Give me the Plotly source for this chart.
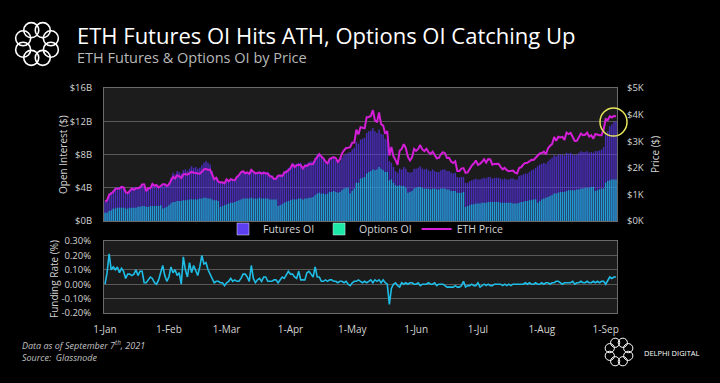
import math
import pandas as pd
import plotly.graph_objects as go

dates = pd.date_range("2021-01-01", periods=249, freq="D")

# ETH price (USD)
eth_price = [
    730, 775, 979, 1042, 1100, 1208, 1225, 1224, 1281, 1262, 1090, 1044, 1130, 1218, 1171, 1233, 1230, 1257, 1377, 1382, 1121, 1235, 1230, 1392, 1324, 1357, 1253, 1331, 1382, 1378, 1314,
    1370, 1514, 1660, 1594, 1718, 1677, 1614, 1750, 1769, 1744, 1784, 1843, 1814, 1804, 1779, 1781, 1848, 1937, 1960, 1919, 1935, 1781, 1570, 1626, 1475, 1446, 1459, 1416,
    1564, 1492, 1575, 1541, 1533, 1654, 1724, 1834, 1869, 1795, 1825, 1770, 1924, 1854, 1791, 1806, 1822, 1782, 1812, 1788, 1785, 1681, 1669, 1581, 1587, 1700, 1713, 1687, 1816, 1840, 1919,
    1977, 2143, 2029, 2090, 2111, 2100, 1972, 2072, 2072, 2137, 2152, 2140, 2300, 2432, 2514, 2423, 2355, 2235, 2168, 2330, 2365, 2403, 2363, 2212, 2315, 2535, 2659, 2745, 2756, 2773,
    2945, 2950, 3431, 3253, 3522, 3490, 3484, 3903, 3910, 3948, 4168, 3785, 3715, 4079, 3640, 3587, 3282, 3379, 2460, 2784, 2430, 2296, 2109, 2643, 2707, 2889, 2742, 2412, 2278, 2386, 2707,
    2634, 2707, 2855, 2689, 2630, 2715, 2590, 2517, 2609, 2472, 2354, 2372, 2509, 2587, 2549, 2367, 2373, 2231, 2178, 2243, 1880, 1880, 1969, 1989, 1811, 1829, 1982, 2080, 2160, 2274,
    2112, 2150, 2226, 2321, 2198, 2324, 2316, 2117, 2147, 2139, 2155, 2035, 1940, 1995, 1912, 1875, 1898, 1895, 1820, 1787, 1991, 2027, 2123, 2185, 2191, 2233, 2298, 2297, 2380, 2462, 2540,
    2557, 2608, 2507, 2725, 2827, 2890, 3158, 3013, 3167, 3142, 3164, 3050, 3324, 3266, 3311, 3150, 3012, 3018, 3183, 3289, 3226, 3243, 3320, 3173, 3228, 3096, 3268, 3239, 3224, 3226, 3433,
    3834, 3790, 3940, 3887, 3952, 3927,
]

# Futures open interest (USD billions)
futures_oi = [
    2.3, 2.5, 3.3, 3.5, 3.7, 4.0, 4.1, 4.0, 4.2, 3.9, 3.5, 3.4, 3.7, 4.0, 4.1, 4.0, 4.1, 4.2, 4.4, 4.3, 3.8, 4.0, 4.1, 4.5, 4.3, 4.2, 4.0, 4.2, 4.3, 4.4, 4.2,
    4.6, 5.2, 5.8, 5.6, 6.0, 5.9, 5.7, 6.1, 6.2, 6.0, 6.3, 6.6, 6.4, 6.5, 6.3, 6.4, 6.7, 7.0, 7.2, 7.0, 6.8, 6.0, 5.1, 5.3, 4.8, 4.6, 4.7, 4.6,
    4.9, 4.7, 5.0, 4.9, 4.8, 5.2, 5.4, 5.7, 5.9, 5.7, 5.9, 5.8, 6.2, 6.0, 5.8, 5.9, 6.0, 5.9, 6.0, 5.9, 5.9, 5.6, 5.5, 5.2, 5.2, 5.5, 5.6, 5.6, 6.0, 6.1, 6.4,
    6.6, 7.0, 6.8, 6.9, 7.0, 7.0, 6.6, 6.9, 6.9, 7.1, 7.2, 7.2, 7.6, 8.0, 8.1, 7.8, 7.6, 7.0, 6.9, 7.4, 7.5, 7.6, 7.3, 6.9, 7.1, 7.6, 7.9, 8.1, 8.2, 8.3,
    8.6, 8.8, 9.5, 9.3, 9.8, 9.9, 10.0, 10.6, 10.8, 10.9, 11.2, 10.8, 10.6, 11.0, 10.5, 10.4, 9.9, 9.8, 7.2, 7.0, 6.5, 6.0, 5.8, 6.3, 6.2, 6.5, 6.3, 5.9, 5.8, 5.9, 6.3,
    6.3, 6.4, 6.6, 6.3, 6.2, 6.3, 6.1, 6.0, 6.2, 6.0, 5.9, 5.9, 6.1, 6.2, 6.2, 6.0, 6.0, 5.8, 5.7, 5.8, 5.3, 5.2, 5.3, 5.3, 4.6, 4.6, 4.8, 4.9, 5.0, 5.1,
    5.0, 5.0, 5.1, 5.2, 5.1, 5.3, 5.3, 5.1, 5.2, 5.2, 5.2, 5.1, 5.0, 5.1, 5.0, 5.0, 5.1, 5.1, 5.0, 5.0, 5.4, 5.5, 5.6, 5.7, 5.7, 5.9, 6.1, 6.2, 6.4, 6.6, 6.8,
    6.9, 7.0, 6.9, 7.2, 7.4, 7.6, 7.9, 7.8, 8.0, 8.0, 8.0, 7.9, 8.2, 8.1, 8.2, 8.0, 7.9, 8.0, 8.2, 8.4, 8.3, 8.3, 8.4, 8.2, 8.3, 8.2, 8.4, 8.4, 8.5, 8.6, 8.9,
    10.4, 10.8, 11.4, 11.6, 11.9, 12.0,
]

# Options open interest (USD billions)
options_oi = [
    1.0, 1.0, 1.2, 1.3, 1.5, 1.5, 1.6, 1.6, 1.6, 1.6, 1.5, 1.5, 1.6, 1.6, 1.6, 1.6, 1.7, 1.7, 1.8, 1.8, 1.7, 1.7, 1.8, 1.8, 1.8, 1.8, 1.8, 1.9, 1.5, 1.6, 1.7,
    1.9, 2.1, 2.3, 2.3, 2.4, 2.4, 2.4, 2.5, 2.5, 2.5, 2.6, 2.6, 2.6, 2.6, 2.6, 2.7, 2.7, 2.8, 2.8, 2.7, 2.7, 2.6, 2.5, 2.5, 2.4, 1.7, 1.8, 1.9,
    2.0, 2.1, 2.2, 2.2, 2.3, 2.4, 2.5, 2.6, 2.7, 2.7, 2.7, 2.7, 2.8, 2.7, 2.7, 2.7, 2.8, 2.7, 2.7, 2.7, 2.7, 2.6, 2.6, 2.6, 2.6, 1.8, 1.9, 2.0, 2.2, 2.3, 2.4,
    2.5, 2.6, 2.6, 2.6, 2.7, 2.7, 2.6, 2.7, 2.7, 2.8, 2.8, 2.9, 3.1, 3.3, 3.4, 3.3, 3.3, 3.2, 3.3, 3.5, 3.5, 3.6, 3.5, 3.4, 3.5, 3.7, 3.9, 4.0, 4.0, 3.3,
    3.6, 3.9, 4.6, 4.6, 5.1, 5.2, 5.3, 5.7, 5.9, 6.0, 6.2, 6.1, 6.2, 6.5, 6.3, 6.1, 5.9, 5.9, 4.9, 5.0, 4.6, 4.3, 4.2, 4.3, 4.2, 4.2, 4.0, 3.4, 3.5, 3.6, 3.9,
    4.0, 4.1, 4.1, 4.0, 3.9, 3.9, 3.9, 3.8, 3.9, 3.9, 3.8, 3.8, 3.9, 3.9, 3.9, 3.8, 3.8, 3.6, 3.6, 3.6, 3.4, 3.4, 3.4, 3.5, 1.7, 1.8, 1.9, 2.0, 2.0, 2.1,
    2.1, 2.1, 2.2, 2.2, 2.2, 2.3, 2.3, 2.3, 2.3, 2.3, 2.3, 2.2, 2.2, 2.2, 2.2, 2.2, 2.2, 2.1, 2.1, 2.1, 2.2, 2.3, 2.3, 2.4, 2.4, 2.5, 2.5, 2.6, 2.6, 2.2, 2.4,
    2.6, 2.7, 2.8, 2.9, 3.0, 3.1, 3.3, 3.3, 3.4, 3.5, 3.5, 3.5, 3.6, 3.7, 3.7, 3.7, 3.7, 3.8, 3.8, 3.9, 3.9, 4.0, 4.0, 4.0, 4.1, 4.1, 3.6, 3.7, 3.8, 3.9, 3.9,
    4.6, 4.8, 4.9, 5.0, 5.0, 5.0,
]

# Funding rate (%)
funding_rate = [
    0.00, 0.08, 0.21, 0.10, 0.12, 0.10, 0.12, 0.08, 0.11, 0.09, 0.04, 0.07, 0.07, 0.06, 0.07, 0.10, 0.06, 0.09, 0.09, 0.01, 0.01, 0.03, 0.05, 0.04, 0.01, 0.00, 0.03, 0.08, 0.13, 0.06, 0.02,
    0.05, 0.12, 0.08, 0.10, 0.06, 0.08, 0.00, 0.19, 0.10, 0.05, 0.15, 0.08, 0.13, 0.10, 0.06, 0.12, 0.20, 0.14, 0.15, 0.10, 0.07, 0.03, 0.01, 0.02, 0.02, 0.01, 0.01, -0.01,
    0.01, 0.02, 0.04, 0.02, 0.03, 0.02, 0.02, 0.04, 0.07, 0.07, 0.05, 0.02, 0.13, 0.04, 0.01, 0.03, 0.04, 0.02, 0.05, 0.05, 0.02, 0.02, 0.02, 0.03, 0.03, 0.01, 0.03, 0.05, 0.04, 0.07, 0.09,
    0.07, 0.07, 0.05, 0.04, 0.09, 0.03, 0.03, 0.03, 0.08, 0.09, 0.07, 0.05, 0.12, 0.05, 0.05, 0.02, 0.02, 0.03, 0.02, 0.03, 0.03, 0.02, 0.02, 0.01, 0.02, 0.02, 0.01, 0.02, 0.00, -0.01,
    0.01, 0.02, 0.02, 0.03, 0.02, 0.01, 0.02, 0.01, 0.02, 0.03, 0.01, 0.03, 0.02, 0.03, 0.01, 0.03, 0.01, 0.00, -0.14, -0.03, 0.00, 0.01, -0.01, -0.02, 0.01, 0.00, 0.01, 0.00, 0.01, 0.01, 0.00,
    0.00, 0.01, -0.01, 0.00, 0.00, 0.00, 0.01, 0.00, 0.00, 0.01, -0.01, 0.00, 0.00, 0.00, -0.01, -0.02, -0.02, -0.02, -0.02, -0.01, -0.02, -0.02, -0.01, 0.02, -0.02, -0.01, -0.01, 0.00, -0.01, -0.01,
    0.01, -0.02, -0.01, 0.00, -0.01, 0.00, -0.01, -0.01, 0.00, 0.00, 0.00, 0.00, -0.01, 0.00, -0.01, 0.00, -0.01, 0.00, 0.00, 0.00, 0.00, 0.00, 0.00, 0.01, 0.00, 0.01, 0.00, 0.00, 0.01, 0.00, 0.00,
    0.01, 0.00, 0.01, 0.01, 0.00, 0.01, 0.01, 0.02, 0.02, 0.01, 0.00, 0.01, 0.01, 0.01, 0.01, 0.02, 0.00, 0.01, 0.01, 0.02, 0.01, 0.01, 0.02, 0.01, 0.01, 0.02, 0.01, 0.02, 0.01, 0.02, 0.02,
    0.00, 0.03, 0.05, 0.04, 0.05, 0.05,
]

oi_tickvals = [0, 4, 8, 12, 16]
oi_ticktext = ["$0B", "$4B", "$8B", "$12B", "$16B"]
price_tickvals = [0, 1000, 2000, 3000, 4000, 5000]
price_ticktext = ["$0K", "$1K", "$2K", "$3K", "$4K", "$5K"]
fr_tickvals = [-0.2, -0.1, 0.0, 0.1, 0.2, 0.3]
fr_ticktext = ["-0.20%", "-0.10%", "0.00%", "0.10%", "0.20%", "0.30%"]

W, H = 720, 383
FONT = "Open Sans"
TXT = "#d4d4d4"
FRAME = "#6a6a6a"
GRIDC = "#585858"


def px(x):
    return x / W


def py(y):
    return 1 - y / H


fig = go.Figure()

fig.add_trace(go.Bar(x=dates, y=futures_oi, name="Futures OI", marker_color="rgba(84,50,228,0.8)",
                     marker_line_width=0, showlegend=False, xaxis="x", yaxis="y"))
fig.add_trace(go.Bar(x=dates, y=options_oi, name="Options OI", marker_color="rgba(10,230,225,0.6)",
                     marker_line_width=0, showlegend=False, xaxis="x", yaxis="y"))
# legend entries
fig.add_trace(go.Bar(x=[None], y=[None], name="Futures OI", marker_color="#5b3ff0", xaxis="x", yaxis="y"))
fig.add_trace(go.Bar(x=[None], y=[None], name="Options OI", marker_color="#1de9a6", xaxis="x", yaxis="y"))
fig.add_trace(go.Scatter(x=dates, y=eth_price, name="ETH Price", mode="lines",
                         line=dict(color="#d41ed8", width=2), xaxis="x", yaxis="y2"))
fig.add_trace(go.Scatter(x=dates, y=funding_rate, name="Funding Rate", mode="lines", showlegend=False,
                         line=dict(color="#1fbde6", width=1.6), xaxis="x2", yaxis="y3"))

xr = ["2020-12-31 12:00", "2021-09-06 12:00"]
dom_x = [px(104), px(617)]

fig.update_layout(
    width=W, height=H,
    paper_bgcolor="black", plot_bgcolor="#1c1c1c",
    margin=dict(l=0, r=0, t=0, b=0, pad=0, autoexpand=False),
    font=dict(family=FONT, color=TXT, size=10),
    barmode="overlay", bargap=0.3,
    showlegend=True,
    legend=dict(orientation="h", x=px(366), xanchor="center", y=py(229), yanchor="middle",
                bgcolor="rgba(0,0,0,0)", font=dict(size=10.5, color=TXT), itemwidth=30,
                traceorder="normal"),
    xaxis=dict(domain=dom_x, anchor="y", type="date", range=xr, showticklabels=False, automargin=False,
               showgrid=False, showline=True, linecolor=FRAME, mirror=True, ticks=""),
    yaxis=dict(domain=[py(221), py(88)], range=[0, 16], tickvals=oi_tickvals, ticktext=oi_ticktext,
               automargin=False, showgrid=True, gridcolor=GRIDC, zeroline=False, showline=True,
               linecolor=FRAME, mirror=True, ticklabelstandoff=9, tickfont=dict(size=9.5, color=TXT)),
    yaxis2=dict(overlaying="y", side="right", range=[0, 5000], tickvals=price_tickvals, ticktext=price_ticktext,
                automargin=False, showgrid=False, zeroline=False, ticklabelstandoff=9,
                tickfont=dict(size=9.5, color=TXT)),
    xaxis2=dict(domain=dom_x, anchor="y3", type="date", range=xr, dtick="M1", tick0="2021-01-01",
                tickformat="%-d-%b", automargin=False, showgrid=False, showline=True, linecolor=FRAME,
                mirror=True, ticks="", ticklabelstandoff=7, tickfont=dict(size=10, color=TXT)),
    yaxis3=dict(domain=[py(313), py(241)], range=[-0.2, 0.3], tickvals=fr_tickvals, ticktext=fr_ticktext,
                automargin=False, showgrid=True, gridcolor=GRIDC, zeroline=False, showline=True,
                linecolor=FRAME, mirror=True, ticklabelstandoff=10, tickfont=dict(size=9.5, color=TXT)),
)

ann = [
    dict(text="ETH Futures OI Hits ATH, Options OI Catching Up", x=px(75), y=py(35), xanchor="left",
         yanchor="middle", font=dict(size=22, color="white")),
    dict(text="ETH Futures & Options OI by Price", x=px(75), y=py(57.5), xanchor="left", yanchor="middle",
         font=dict(size=14.5, color="#b8b8b8")),
    dict(text="Open Interest ($)", x=px(63), y=py(154), textangle=-90, xanchor="center", yanchor="middle",
         font=dict(size=10, color=TXT)),
    dict(text="Price ($)", x=px(655), y=py(155), textangle=-90, xanchor="center", yanchor="middle",
         font=dict(size=10, color=TXT)),
    dict(text="Funding Rate (%)", x=px(54), y=py(279), textangle=-90, xanchor="center", yanchor="middle",
         font=dict(size=10, color=TXT)),
    dict(text="<i>Data as of September 7<sup>th</sup>, 2021</i>", x=px(20), y=py(345), xanchor="left",
         yanchor="middle", font=dict(size=9, color="#c0c0c0")),
    dict(text="<i>Source:  Glassnode</i>", x=px(20), y=py(357), xanchor="left", yanchor="middle",
         font=dict(size=9, color="#c0c0c0")),
    dict(text="DELPHI DIGITAL", x=px(642), y=py(353), xanchor="left", yanchor="middle",
         font=dict(size=7.5, color="white")),
]
for a in ann:
    a.update(xref="paper", yref="paper", showarrow=False)
fig.update_layout(annotations=ann)

shapes = []


def ring_logo(cx, cy, R, r, w):
    for k in range(8):
        t = 2 * math.pi * k / 8 + math.pi / 8
        x = cx + R * math.cos(t)
        y = cy + R * math.sin(t)
        shapes.append(dict(type="circle", xref="paper", yref="paper",
                           x0=px(x - r), x1=px(x + r), y0=py(y + r), y1=py(y - r),
                           line=dict(color="white", width=w)))


ring_logo(37, 44, 15, 7.5, 1.6)
ring_logo(619, 352, 10, 4.6, 1.0)
# highlight circle
shapes.append(dict(type="circle", xref="paper", yref="paper",
                   x0=px(600), x1=px(627), y0=py(136), y1=py(108),
                   line=dict(color="#e8e65a", width=1.5)))
fig.update_layout(shapes=shapes)

fig.write_html("out.html", config={"displayModeBar": False},
               post_script="document.body.style.margin='0';document.body.style.background='black';")
